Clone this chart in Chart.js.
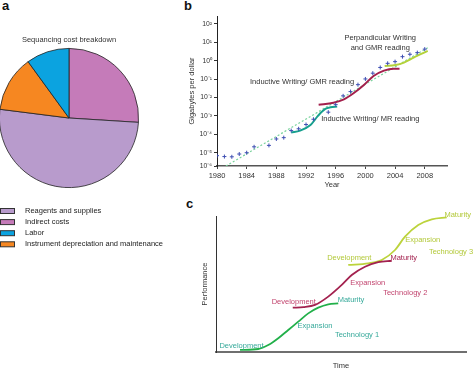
<!DOCTYPE html>
<html>
<head>
<meta charset="utf-8">
<script src="https://cdn.jsdelivr.net/npm/chart.js@4.4.1/dist/chart.umd.min.js"></script>
<style>
body { margin: 0; width: 473px; height: 368px; overflow: hidden; background: #fff; position: relative; font-family: "Liberation Sans", Arial, sans-serif; }
canvas { position: absolute; }
.tag { position: absolute; font-weight: bold; font-size: 13px; line-height: 13px; color: #111; }
</style>
</head>
<body>
<div class="tag" style="left:2px; top:-1px">a</div>
<div class="tag" style="left:184px; top:-1px">b</div>
<div class="tag" style="left:186px; top:197px">c</div>

<canvas id="pie" width="175" height="225" style="left:-1px; top:27px"></canvas>
<canvas id="storage" width="293" height="195" style="left:180px; top:0px"></canvas>
<canvas id="tech" width="293" height="175" style="left:180px; top:195px"></canvas>

<script>
// panel a - cost breakdown (percent), clockwise from 12 o'clock
var costLabels = ["Indirect costs", "Reagents and supplies", "Instrument depreciation and maintenance", "Labor"];
var costShares = [26, 51, 13, 10];
var legendOrder = ["Reagents and supplies", "Indirect costs", "Labor", "Instrument depreciation and maintenance"];

// panel b - gigabytes per dollar
var years = [1980, 1981, 1982, 1983, 1984, 1985, 1987, 1988, 1989, 1990, 1991, 1992, 1993, 1995, 1996,
             1997, 1998, 1999, 2000, 2001, 2002, 2003, 2004, 2005, 2006, 2007, 2008];
var gbPerDollar = [6.9e-6, 6.2e-6, 6.0e-6, 8.5e-6, 1.0e-5, 2.1e-5, 2.5e-5, 5.6e-5, 6.6e-5, 1.6e-4, 2.0e-4, 3.4e-4, 6.6e-4, 1.6e-3, 4.1e-3,
                   0.0123, 0.021, 0.05, 0.102, 0.21, 0.43, 0.72, 0.89, 1.66, 2.24, 2.75, 4.27];
var trendYears = [1981.2, 2008.4];
var trendValues = [1.9e-6, 5.1];
var mrYears = [1990.0, 1991.2, 1992.6, 1993.6, 1994.6, 1995.3, 1996.2];
var mrValues = [1.26e-4, 1.58e-4, 3.2e-4, 1.0e-3, 2.4e-3, 2.95e-3, 3.2e-3];
var gmrYears = [1993.7, 1995.7, 1997.1, 1998.4, 1999.8, 2001.1, 2002.5, 2003.8, 2004.6];
var gmrValues = [4.0e-3, 5.2e-3, 7.9e-3, 0.017, 0.048, 0.148, 0.29, 0.37, 0.37];
var perpYears = [2002.6, 2004.05, 2005.2, 2006.5, 2008.4];
var perpValues = [0.52, 0.58, 0.79, 1.48, 3.4];
var yTickValues = [1.9e-6, 1e-5, 1e-4, 1e-3, 1e-2, 1e-1, 1, 10, 100];
var yTickLabels = ["10\u207B\u2076", "10\u207B\u2075", "10\u207B\u2074", "10\u207B\u00B3", "10\u207B\u00B2", "10\u207B\u00B9", "10\u2070", "10\u00B9", "10\u00B2"];

// panel c - technology S-curves (arbitrary units)
var tech1Time = [9.6, 16.9, 20.9, 24.9, 28.9, 32.9, 36.9, 40.9, 44.9, 48.9];
var tech1Perf = [1.5, 2.2, 5.1, 10.1, 16.2, 22.3, 28.4, 32.6, 35.1, 35.8];
var tech2Time = [30.7, 35.0, 39.6, 44.9, 50.3, 54.3, 59.6, 64.9, 70.3];
var tech2Perf = [32.6, 33.0, 34.6, 40.7, 49.3, 56.6, 62.7, 66.0, 67.1];
var tech3Time = [52.9, 60.9, 66.3, 71.6, 75.6, 80.9, 86.3, 92.3];
var tech3Perf = [64.0, 65.2, 67.6, 75.0, 84.8, 93.4, 97.6, 99.0];

var FONT = { family: "'Liberation Sans', Arial, sans-serif", size: 7.5 };

function points(xs, ys)
{
    return xs.map(function(x, i) { return { x: x, y: ys[i] }; });
}

function notesPlugin(notes)
{
    return {
        id: "notes",
        afterDraw: function(chart)
        {
            var ctx = chart.ctx;
            ctx.save();
            ctx.font = FONT.size + "px " + FONT.family;
            ctx.textAlign = "center";
            ctx.textBaseline = "middle";
            notes.forEach(function(n)
            {
                ctx.fillStyle = n.color;
                ctx.fillText(n.text, chart.scales.x.getPixelForValue(n.x), chart.scales.y.getPixelForValue(n.y));
            });
            ctx.restore();
        }
    };
}

// vertical legend under the pie, in legendOrder
var pieLegend = {
    id: "pieLegend",
    afterDraw: function(chart)
    {
        var ctx = chart.ctx;
        var top = chart.chartArea.bottom + 23;
        ctx.save();
        ctx.font = FONT.size + "px " + FONT.family;
        ctx.textBaseline = "middle";
        ctx.lineWidth = 1;
        legendOrder.forEach(function(label, i)
        {
            var y = top + i * 11.1;
            ctx.fillStyle = Figure.colors[label];
            ctx.fillRect(1.5, y - 2.5, 14, 5);
            ctx.strokeStyle = "#333";
            ctx.strokeRect(1.5, y - 2.5, 14, 5);
            ctx.fillStyle = "#222";
            ctx.fillText(label, 26, y);
        });
        ctx.restore();
    }
};

var Figure =
{
    colors: {
        "Reagents and supplies": "#b89bcc",
        "Indirect costs": "#c57bb9",
        "Labor": "#0ba3e0",
        "Instrument depreciation and maintenance": "#f68721"
    },

    init: function()
    {
        Chart.defaults.animation = false;
        Chart.defaults.responsive = false;
        Chart.defaults.font.family = FONT.family;
        Chart.defaults.font.size = FONT.size;
        Chart.defaults.color = "#333";
        Chart.defaults.plugins.legend.display = false;
        Chart.defaults.plugins.tooltip.enabled = false;

        Figure.drawPie();
        Figure.drawStorage();
        Figure.drawTech();
    },

    drawPie: function()
    {
        new Chart(document.getElementById("pie"), {
            type: "pie",
            data: {
                labels: costLabels,
                datasets: [{
                    data: costShares,
                    backgroundColor: costLabels.map(function(l) { return Figure.colors[l]; }),
                    borderColor: "#222",
                    borderWidth: 0.8
                }]
            },
            options: {
                layout: { padding: { top: 0, left: 0, right: 35, bottom: 64 } },
                plugins: {
                    title: { display: true, text: "Sequancing cost breakdown", color: "#333", font: { size: 7.5, weight: "normal" }, padding: { top: 8, bottom: 4 } }
                }
            },
            plugins: [pieLegend]
        });
    },

    drawStorage: function()
    {
        var notes = [
            { text: "Perpandicular Writing", x: 2002.0, y: 17.4, color: "#333" },
            { text: "and GMR reading", x: 2002.0, y: 5.0, color: "#333" },
            { text: "Inductive Writing/ GMR reading", x: 1991.46, y: 0.071, color: "#333" },
            { text: "Inductive Writing/ MR reading", x: 2000.66, y: 6.9e-4, color: "#333" }
        ];
        var curve = { showLine: true, pointRadius: 0, borderWidth: 2, cubicInterpolationMode: "monotone", order: 1 };

        new Chart(document.getElementById("storage"), {
            type: "scatter",
            data: {
                datasets: [
                    { data: points(years, gbPerDollar), pointStyle: "cross", pointRadius: 2, borderWidth: 1, borderColor: "#3f4fb3", order: 0 },
                    Object.assign({ data: points(mrYears, mrValues), borderColor: "#17a08e" }, curve),
                    Object.assign({ data: points(gmrYears, gmrValues), borderColor: "#a3204c" }, curve),
                    Object.assign({ data: points(perpYears, perpValues), borderColor: "#b4d23a" }, curve),
                    { data: points(trendYears, trendValues), showLine: true, pointRadius: 0, borderWidth: 1.2, borderDash: [2, 2], borderColor: "#79d39c", order: 2 }
                ]
            },
            options: {
                layout: { padding: { top: 16, right: 26, left: 0, bottom: 0 } },
                scales: {
                    x: {
                        type: "linear", min: 1980, max: 2011,
                        afterFit: function(s) { s.height = 29; },
                        ticks: { stepSize: 4, includeBounds: false, padding: 2, color: "#333", callback: function(v) { return String(v); } },
                        grid: { drawOnChartArea: false, tickLength: 3, color: "#444" },
                        border: { color: "#555", width: 1.5 },
                        title: { display: true, text: "Year", color: "#333", padding: { top: 0, bottom: 5.5 } }
                    },
                    y: {
                        type: "logarithmic", min: 1.9e-6, max: 269,
                        afterFit: function(s) { s.width = 37; },
                        afterBuildTicks: function(s) { s.ticks = yTickValues.map(function(v) { return { value: v }; }); },
                        ticks: { autoSkip: false, padding: 2, color: "#333", font: { size: 6.8 }, callback: function(v, i) { return yTickLabels[i]; } },
                        grid: { drawOnChartArea: false, tickLength: 3, color: "#333" },
                        border: { color: "#222", width: 1 },
                        title: { display: true, text: "Gigabytes per dollar", color: "#333", padding: { top: 7.5, bottom: 0 } }
                    }
                }
            },
            plugins: [notesPlugin(notes)]
        });
    },

    drawTech: function()
    {
        var teal = "#36a99a", rose = "#c2456f", maroon = "#a3224f", lime = "#b3c93a";
        var notes = [
            { text: "Development", x: 10.2, y: 4.4, color: teal },
            { text: "Expansion", x: 39.6, y: 19.1, color: teal },
            { text: "Maturity", x: 54.0, y: 38.2, color: teal },
            { text: "Technology 1", x: 56.4, y: 12.5, color: teal },
            { text: "Development", x: 31.1, y: 36.5, color: rose },
            { text: "Expansion", x: 60.7, y: 51.0, color: rose },
            { text: "Maturity", x: 75.1, y: 69.3, color: maroon },
            { text: "Technology 2", x: 75.7, y: 43.2, color: rose },
            { text: "Development", x: 53.3, y: 68.9, color: lime },
            { text: "Expansion", x: 82.7, y: 82.4, color: lime },
            { text: "Maturity", x: 96.7, y: 101, color: lime },
            { text: "Technology 3", x: 94.0, y: 73.3, color: lime }
        ];
        var curve = { showLine: true, pointRadius: 0, borderWidth: 1.8, cubicInterpolationMode: "monotone" };

        new Chart(document.getElementById("tech"), {
            type: "scatter",
            data: {
                datasets: [
                    Object.assign({ data: points(tech1Time, tech1Perf), borderColor: "#22b04a" }, curve),
                    Object.assign({ data: points(tech2Time, tech2Perf), borderColor: "#a3224f" }, curve),
                    Object.assign({ data: points(tech3Time, tech3Perf), borderColor: "#bcd33c" }, curve)
                ]
            },
            options: {
                layout: { padding: { top: 21, right: 7, left: 0, bottom: 0 } },
                scales: {
                    x: {
                        type: "linear", min: 0, max: 100,
                        afterFit: function(s) { s.height = 18; },
                        ticks: { display: false },
                        grid: { display: false },
                        border: { color: "#6f6f6f", width: 2 },
                        title: { display: true, text: "Time", color: "#333", padding: { top: 0, bottom: 0 } }
                    },
                    y: {
                        type: "linear", min: 0, max: 100,
                        afterFit: function(s) { s.width = 36; },
                        ticks: { display: false },
                        grid: { display: false },
                        border: { color: "#333", width: 1 },
                        title: { display: true, text: "Performance", color: "#333", padding: { top: 20, bottom: 0 } }
                    }
                }
            },
            plugins: [notesPlugin(notes)]
        });
    }
};

Figure.init();
</script>
</body>
</html>
